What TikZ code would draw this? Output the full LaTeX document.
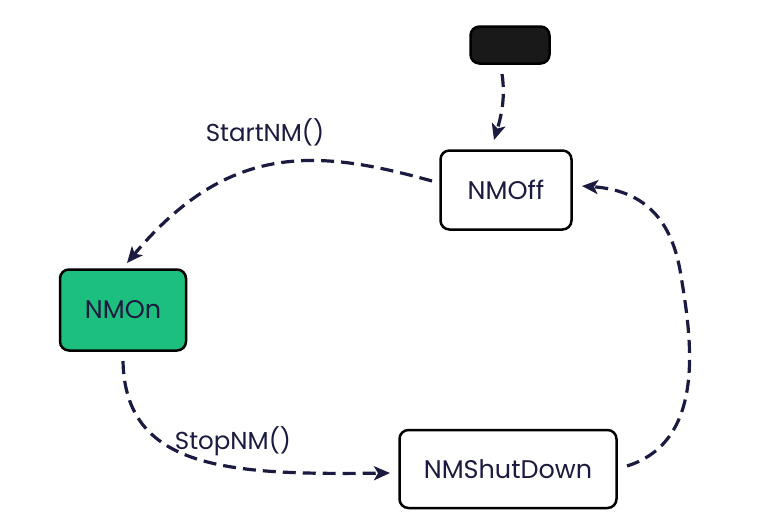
\documentclass[tikz,border=0pt]{standalone}
\usepackage{fontspec}
\setmainfont{Poppins}
\usetikzlibrary{arrows.meta}
\definecolor{ink}{HTML}{1B1A40}
\definecolor{nmgreen}{HTML}{1DBF7E}
\begin{document}
\begin{tikzpicture}[x=1pt,y=-1pt,
  state/.style={draw=black,line width=2.5pt,rounded corners=9pt,fill=white,text=ink,font=\fontsize{25.5}{30}\selectfont,inner sep=0pt},
  conn/.style={ink,line width=3.2pt,dash pattern=on 13pt off 7pt,-{Stealth[length=16pt,width=14pt,inset=4pt]}},
  lbl/.style={text=ink,font=\fontsize{24.5}{28}\selectfont}]
\useasboundingbox (0,0) rectangle (774,531);
\node[state,fill=black!90,minimum width=79pt,minimum height=37pt] (init) at (510,45) {};
\node[state,minimum width=131pt,minimum height=79pt] (off) at (506,190) {NMOff};
\node[state,fill=nmgreen,minimum width=126pt,minimum height=81pt] (on) at (123,310) {NMOn};
\node[state,minimum width=217pt,minimum height=78pt] (shut) at (508,469) {NMShutDown};
\coordinate (a1) at (502,74);
\coordinate (a2) at (494,140);
\draw[conn] (a1) .. controls (506,100) and (500,120) .. (a2);
\coordinate (b1) at (432,181);
\coordinate (b2) at (127,263);
\draw[conn] (b1) .. controls (320,150) and (230,140) .. (b2);
\coordinate (c1) at (123,361);
\coordinate (c2) at (390,473);
\draw[conn] (c1) .. controls (125,470) and (230,475) .. (c2);
\coordinate (d1) at (627,466);
\coordinate (d2) at (582,186);
\draw[conn] (d1) .. controls (710,440) and (690,330) .. (680,270) .. controls (670,215) and (640,190) .. (d2);
\node[lbl] at (265,132) {StartNM()};
\node[lbl] at (233,441) {StopNM()};
\end{tikzpicture}
\end{document}
